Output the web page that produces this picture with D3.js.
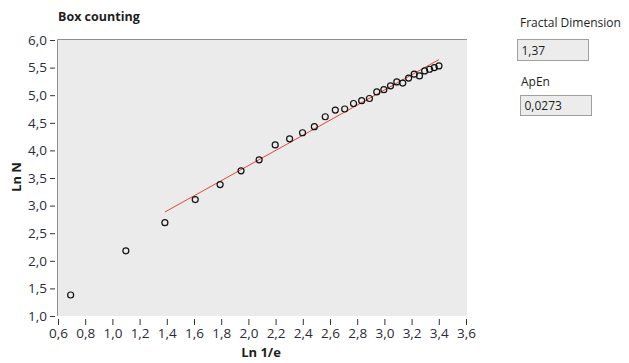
<!DOCTYPE html>
<html>
<head>
<meta charset="utf-8">
<script src="https://cdn.jsdelivr.net/npm/d3@7/dist/d3.min.js"></script>
<style>
  html, body { margin: 0; padding: 0; background: #ffffff; }
  svg { display: block; }
  text { font-family: "Open Sans", "DejaVu Sans", sans-serif; }
</style>
</head>
<body>
<script>
// Box-counting data: ln(1/e) against ln N
const lnInvE = [0.693, 1.099, 1.386, 1.609, 1.792, 1.946, 2.079, 2.197, 2.303, 2.398,
                2.485, 2.565, 2.639, 2.708, 2.773, 2.833, 2.890, 2.944, 2.996, 3.045,
                3.091, 3.135, 3.178, 3.219, 3.258, 3.296, 3.332, 3.367, 3.401];
const lnN    = [1.38, 2.18, 2.69, 3.11, 3.38, 3.63, 3.83, 4.10, 4.21, 4.32,
                4.43, 4.61, 4.73, 4.75, 4.85, 4.90, 4.94, 5.06, 5.10, 5.17,
                5.24, 5.22, 5.31, 5.38, 5.35, 5.44, 5.47, 5.50, 5.53];

// Linear fit (slope = fractal dimension)
const fitSlope = 1.37;
const fitIntercept = 0.985;
const fitRange = [1.386, 3.401];

const xTicks = [0.6, 0.8, 1.0, 1.2, 1.4, 1.6, 1.8, 2.0, 2.2, 2.4, 2.6, 2.8, 3.0, 3.2, 3.4, 3.6];
const yTicks = [1.0, 1.5, 2.0, 2.5, 3.0, 3.5, 4.0, 4.5, 5.0, 5.5, 6.0];

const indicatorLabels = ["Fractal Dimension", "ApEn"];
const indicatorValues = ["1,37", "0,0273"];

const W = 629, H = 363;
const plot = { left: 57, top: 39, right: 467, bottom: 316 };

const svg = d3.select("body").append("svg").attr("width", W).attr("height", H);

const x = d3.scaleLinear().domain([0.6, 3.6]).range([58, 466]);
const y = d3.scaleLinear().domain([1.0, 6.0]).range([316, 40]);
const fmt = v => d3.format(".1f")(v).replace(".", ",");

// plot background
svg.append("rect")
  .attr("x", plot.left).attr("y", plot.top)
  .attr("width", plot.right - plot.left).attr("height", plot.bottom - plot.top)
  .attr("fill", "#ebebeb");
// sunken frame edges (top, left)
svg.append("path")
  .attr("d", `M${plot.left + 0.5},${plot.bottom} V${plot.top + 0.5} H${plot.right}`)
  .attr("fill", "none").attr("stroke", "#8e8e8e").attr("stroke-width", 1);

// title
svg.append("text").attr("x", 58).attr("y", 21)
  .attr("font-size", 12.5).attr("font-weight", "bold").attr("fill", "#1e1e1e")
  .text("Box counting");

// x axis
const xAxis = d3.axisBottom(x).tickValues(xTicks).tickFormat(fmt).tickSize(6).tickPadding(3);
const gx = svg.append("g").attr("transform", "translate(0,319)").call(xAxis);
gx.select(".domain").remove();
gx.selectAll(".tick line").attr("stroke", "#333");
gx.selectAll(".tick text").attr("font-size", 13.5).attr("fill", "#2b2b3a")
  .attr("font-family", "'Open Sans', sans-serif");

// y axis
const yAxis = d3.axisLeft(y).tickValues(yTicks).tickFormat(fmt).tickSize(5).tickPadding(3);
const gy = svg.append("g").attr("transform", "translate(55,0)").call(yAxis);
gy.select(".domain").remove();
gy.selectAll(".tick line").attr("stroke", "#333");
gy.selectAll(".tick text").attr("font-size", 13.5).attr("fill", "#2b2b3a")
  .attr("font-family", "'Open Sans', sans-serif");

// axis titles
svg.append("text").attr("x", 261).attr("y", 357).attr("text-anchor", "middle")
  .attr("font-size", 13).attr("font-weight", "bold").attr("fill", "#1e1e1e")
  .text("Ln 1/e");
svg.append("text").attr("transform", "translate(21,177) rotate(-90)").attr("text-anchor", "middle")
  .attr("font-size", 13).attr("font-weight", "bold").attr("fill", "#1e1e1e")
  .text("Ln N");

// fit line
const fitLine = d3.line().x(d => x(d)).y(d => y(fitSlope * d + fitIntercept));
svg.append("path").datum(fitRange)
  .attr("d", fitLine)
  .attr("fill", "none").attr("stroke", "#e2453c").attr("stroke-width", 1);

// data points
svg.append("g").selectAll("circle")
  .data(lnInvE.map((v, i) => [v, lnN[i]]))
  .join("circle")
  .attr("cx", d => x(d[0])).attr("cy", d => y(d[1])).attr("r", 3)
  .attr("fill", "none").attr("stroke", "#111").attr("stroke-width", 1.2);

// indicator panel
const boxes = [
  { lx: 520, ly: 27, bx: 517.5, by: 39.5, bw: 71, bh: 21 },
  { lx: 521, ly: 86, bx: 520.5, by: 95.5, bw: 71, bh: 20 }
];
boxes.forEach((b, i) => {
  svg.append("text").attr("x", b.lx).attr("y", b.ly)
    .attr("font-size", 12).attr("fill", "#1e1e1e").text(indicatorLabels[i]);
  svg.append("rect").attr("x", b.bx).attr("y", b.by).attr("width", b.bw).attr("height", b.bh)
    .attr("fill", "#ececec").attr("stroke", "#a0a0a0").attr("stroke-width", 1);
  svg.append("text").attr("x", b.bx + 4).attr("y", b.by + b.bh / 2 + 4.5)
    .attr("font-size", 12).attr("fill", "#1e1e1e").text(indicatorValues[i]);
});
</script>
</body>
</html>
